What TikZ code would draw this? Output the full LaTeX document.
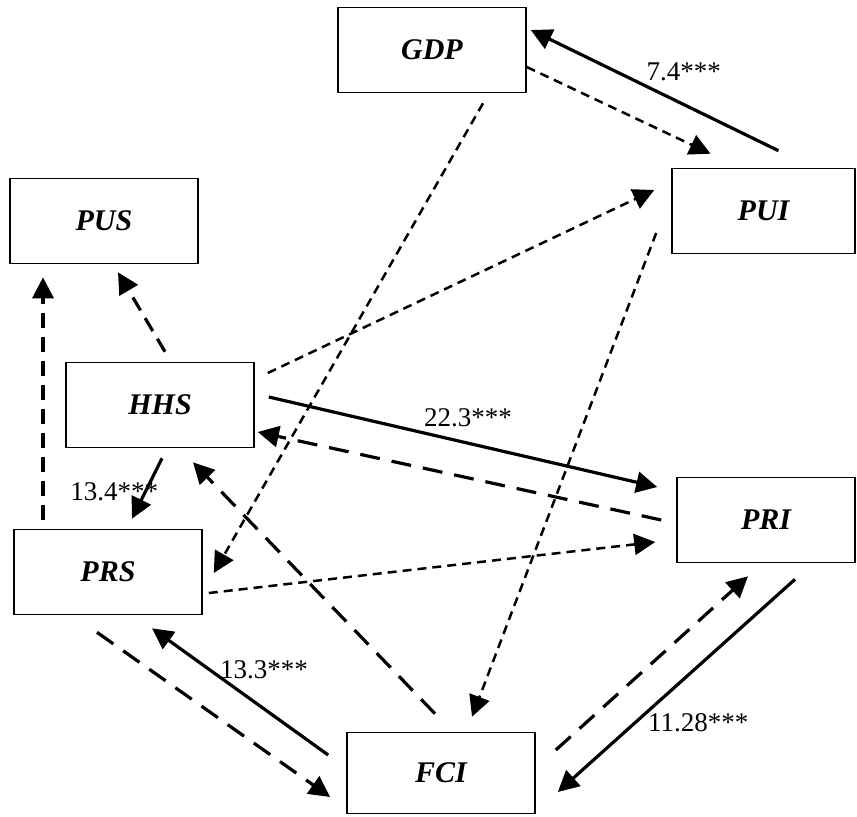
\documentclass[tikz,border=0pt]{standalone}
\usepackage{fontspec}
\setmainfont{Liberation Serif}
\usetikzlibrary{arrows.meta}
\tikzset{
  var/.style={draw, line width=0.8pt, minimum width=94pt, minimum height=42.5pt,
    font=\fontsize{15}{18}\selectfont\bfseries\itshape},
  coef/.style={font=\fontsize{13.5}{16}\selectfont},
  tip/.style={-{Triangle[length=10.5pt,width=10.5pt]}},
  sig/.style={tip, line width=1.6pt},
  dshort/.style={tip, line width=1.25pt, dash pattern=on 4.5pt off 3pt},
  dmid/.style={tip, line width=1.6pt, dash pattern=on 7.5pt off 4.5pt},
  dlong/.style={tip, line width=1.6pt, dash pattern=on 10pt off 6pt}
}
\begin{document}
\begin{tikzpicture}[x=0.5pt,y=-0.5pt]
    \useasboundingbox (0,0) rectangle (857,816);

    % variáveis
    \node[var] (GDP) at (432,50) {GDP};
    \node[var] (PUS) at (104,221) {PUS};
    \node[var] (HHS) at (160,405) {HHS};
    \node[var, minimum width=91.5pt] (PUI) at (763.5,211) {PUI};
    \node[var, minimum width=89pt] (PRI) at (766,520) {PRI};
    \node[var] (PRS) at (108,572) {PRS};
    \node[var, minimum height=40.5pt] (FCI) at (441,773) {FCI};

    % efeitos significativos
    \draw[sig] ([shift={(15,-17)}]PUI.north) -- ([shift={(4,-20)}]GDP.east)
        node[coef, pos=.383, yshift=16.5pt] {7.4***};
    \draw[sig] ([shift={(14,-8)}]HHS.east) -- ([shift={(-19,-33)}]PRI.west)
        node[coef, pos=.513, yshift=12.5pt] {22.3***};
    \draw[sig] ([shift={(2,10)}]HHS.south) -- ([shift={(24,-10)}]PRS.north)
        node[coef, pos=.557, xshift=-15.5pt] {13.4***};
    \draw[sig] ([shift={(-18,-18)}]FCI.west) -- ([shift={(44,13)}]PRS.south)
        node[coef, pos=.365, yshift=19.5pt] {13.3***};
    \draw[sig] ([shift={(29,16)}]PRI.south) -- ([shift={(22,19)}]FCI.east)
        node[coef, pos=.673, xshift=31.5pt] {11.28***};

    % tracejado curto
    \draw[dshort] ([shift={(0,17)}]GDP.east) -- ([shift={(-53,-14)}]PUI.north);
    \draw[dshort] ([shift={(51,10)}]GDP.south) -- ([shift={(11,1)}]PRS.east);
    \draw[dshort] ([shift={(-15,22)}]PUI.west) -- ([shift={(31,-15)}]FCI.north);
    \draw[dshort] ([shift={(13,-32)}]HHS.east) -- ([shift={(-17,-21)}]PUI.west);
    \draw[dshort] ([shift={(6,21)}]PRS.east) -- ([shift={(-21,22)}]PRI.west);

    % tracejado médio
    \draw[dmid] ([shift={(5,-10)}]HHS.north) -- ([shift={(14,8)}]PUS.south);
    \draw[dmid] ([shift={(-65,-9)}]PRS.north) -- ([shift={(-61,13)}]PUS.south);

    % tracejado longo
    \draw[dlong] ([shift={(-15,0)}]PRI.west) -- ([shift={(3,27)}]HHS.east);
    \draw[dlong] ([shift={(-6,-18)}]FCI.north) -- ([shift={(33,14)}]HHS.south);
    \draw[dlong] ([shift={(-11,17)}]PRS.south) -- ([shift={(-16,24)}]FCI.west);
    \draw[dlong] ([shift={(20,-23)}]FCI.east) -- ([shift={(-18,13)}]PRI.south);
\end{tikzpicture}
\end{document}
